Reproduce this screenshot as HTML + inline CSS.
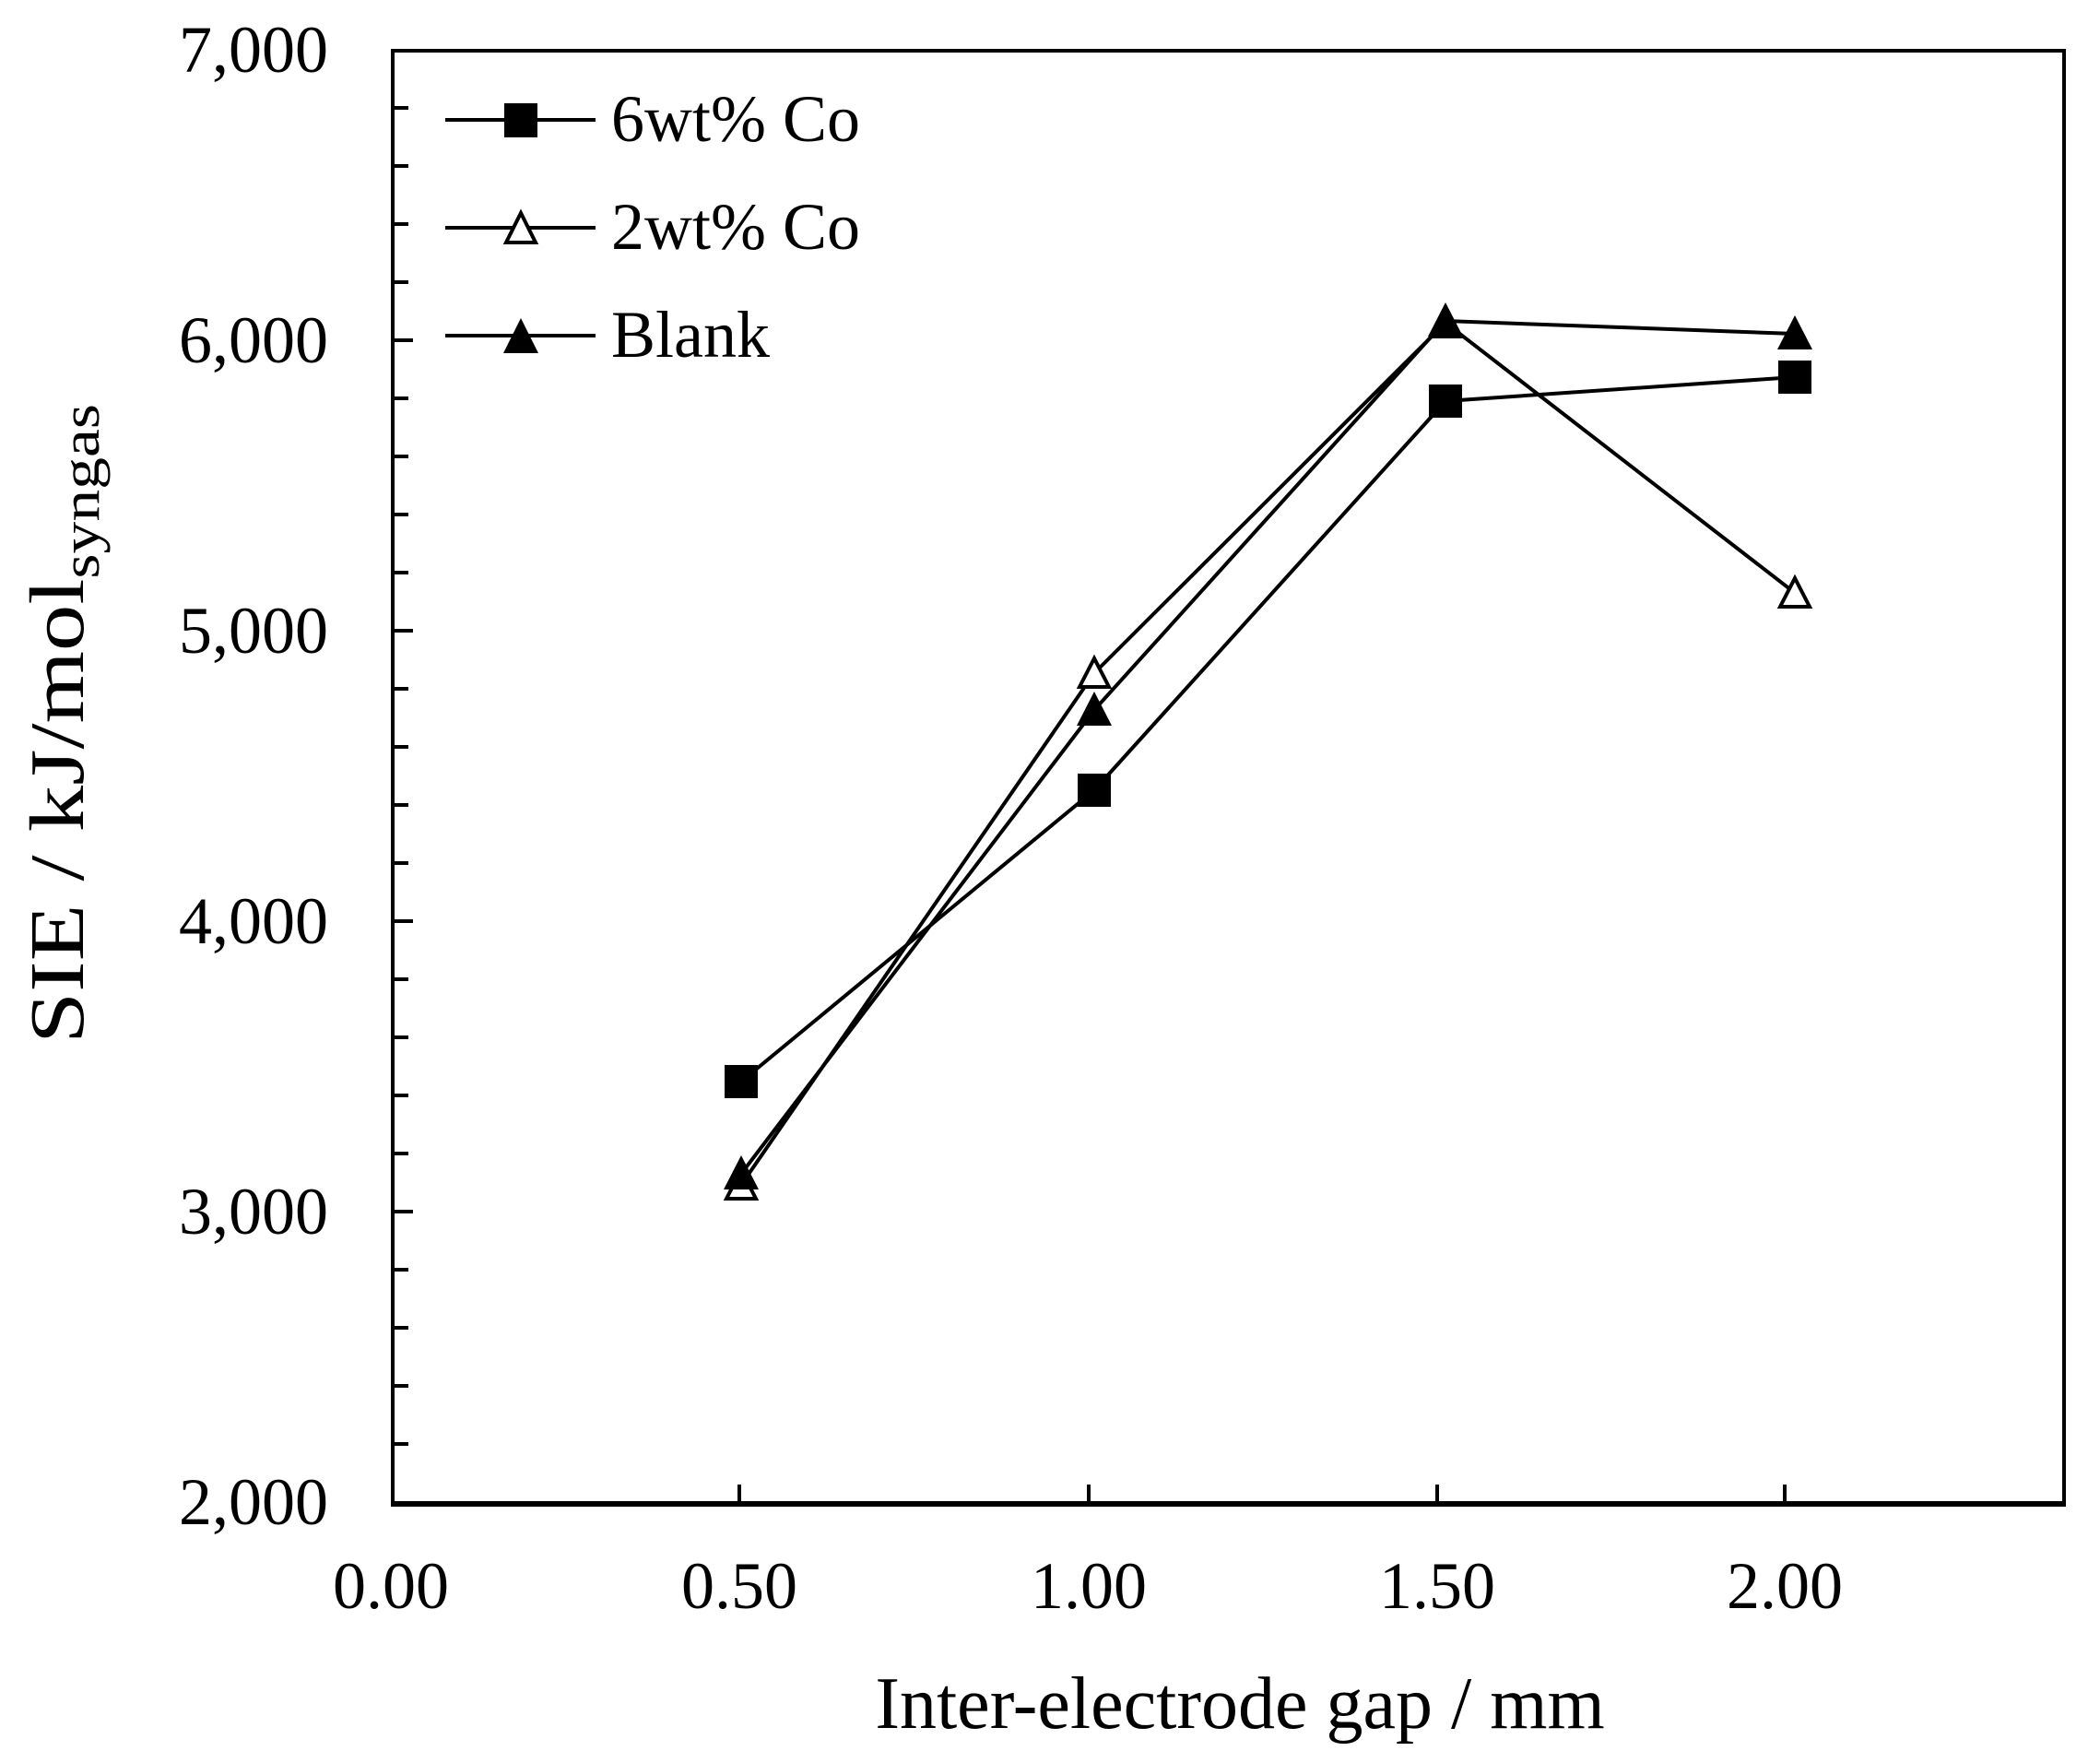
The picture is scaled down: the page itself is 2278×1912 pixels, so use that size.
<!DOCTYPE html>
<html><head><meta charset="utf-8"><style>body{margin:0;background:#fff}svg{display:block}</style></head><body>
<svg width="2278" height="1912" viewBox="0 0 2278 1912" xmlns="http://www.w3.org/2000/svg" font-family="Liberation Serif, serif">
<rect width="2278" height="1912" fill="#fff"/>
<g stroke="#000" fill="none">
<rect x="426" y="55" width="1813" height="1575" stroke-width="4"/>
<line x1="424" y1="1631" x2="2241" y2="1631" stroke-width="6"/>
<g stroke-width="4">
<path d="M426 117h17M426 180h17M426 243h17M426 306h17M426 369h22M426 432h17M426 495h17M426 558h17M426 621h17M426 684h22M426 747h17M426 810h17M426 873h17M426 936h17M426 999h22M426 1062h17M426 1125h17M426 1188h17M426 1251h17M426 1314h22M426 1377h17M426 1440h17M426 1503h17M426 1566h17"/>
<path d="M802 1630v-20M1181 1630v-20M1559 1630v-20M1936 1630v-20"/>
</g>
</g>
<g font-size="72" text-anchor="end" fill="#000">
<text x="356" y="78">7,000</text><text x="356" y="393">6,000</text><text x="356" y="708">5,000</text><text x="356" y="1023">4,000</text><text x="356" y="1338">3,000</text><text x="356" y="1653">2,000</text>
</g>
<g font-size="72" text-anchor="middle" fill="#000">
<text x="424" y="1744">0.00</text><text x="802" y="1744">0.50</text><text x="1181" y="1744">1.00</text><text x="1559" y="1744">1.50</text><text x="1936" y="1744">2.00</text>
</g>
<text x="1345" y="1874" font-size="80" text-anchor="middle">Inter-electrode gap / mm</text>
<text transform="translate(90,1132) rotate(-90)" x="0" y="0" font-size="84" textLength="694" lengthAdjust="spacingAndGlyphs">SIE / kJ/mol<tspan font-size="58" dy="17">syngas</tspan></text>
<g stroke="#000" stroke-width="4" fill="none">
<polyline points="804,1173 1187,857 1568,435 1947,409"/>
<polyline points="804,1285 1187,730 1568,350 1947,643"/>
<polyline points="804,1273 1187,770 1568,348 1947,362"/>
<path d="M483 130H646M483 247H646M483 364H646"/>
</g>
<g fill="#000">
<rect x="786" y="1155" width="36" height="36"/><rect x="1169" y="839" width="36" height="36"/><rect x="1550" y="417" width="36" height="36"/><rect x="1929" y="391" width="36" height="36"/>
<rect x="547" y="112" width="36" height="37"/>
</g>
<g fill="#fff" stroke="#000" stroke-width="4">
<path d="M804 1269l-16 31h32z"/><path d="M1187 714l-16 31h32z"/><path d="M1568 334l-16 31h32z"/><path d="M1947 627l-16 31h32z"/>
<path d="M565 231l-16 32h32z"/>
</g>
<g fill="#000">
<path d="M804 1253l-19 37h38z"/><path d="M1187 750l-19 37h38z"/><path d="M1568 328l-19 37h38z"/><path d="M1947 342l-19 37h38z"/>
<path d="M565 345l-19 38h38z"/>
</g>
<g font-size="72" fill="#000">
<text x="663" y="153">6wt% Co</text><text x="663" y="270">2wt% Co</text><text x="663" y="387">Blank</text>
</g>
</svg>
</body></html>
